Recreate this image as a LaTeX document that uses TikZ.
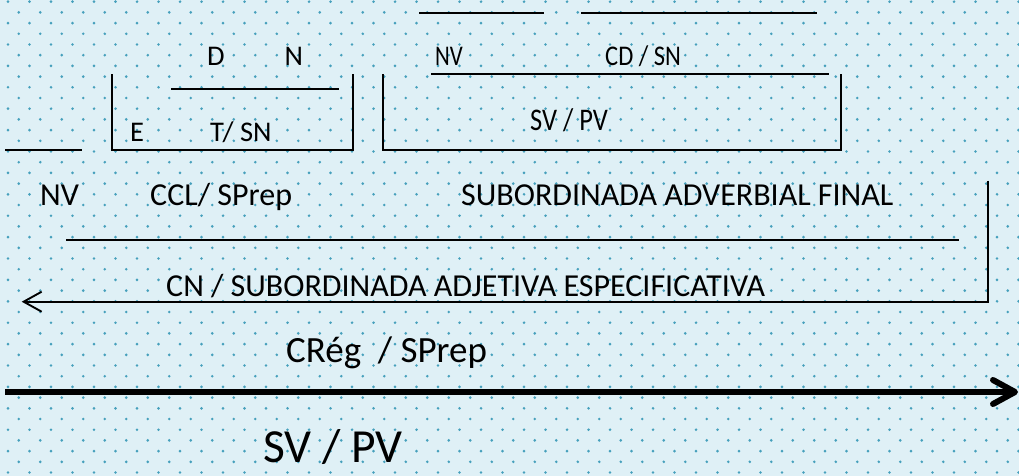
\documentclass[tikz,border=0pt]{standalone}
\usepackage{fontspec}
\setmainfont{Carlito}
\usepackage{xcolor}
\usetikzlibrary{arrows.meta}
\definecolor{bgblue}{RGB}{223,240,246}
\definecolor{dotblue}{RGB}{70,160,188}

\begin{document}
\begin{tikzpicture}[
    x=1pt, y=-1pt,
    lbl/.style={inner sep=0pt, anchor=base west, font=\fontsize{#1}{#1}\selectfont},
    lbl/.default=28.5,
    bar/.style={line width=1.9pt, line cap=rect},
    arr/.style={line width=1.9pt, -{Straight Barb[length=18pt,width=20pt]}},
    bigarr/.style={line width=6pt, -{Straight Barb[length=22pt,width=24pt,round]}}
]
\useasboundingbox (0,0) rectangle (1019,476);
\fill[bgblue] (0,0) rectangle (1019,476);
\begin{scope}
\clip (0,0) rectangle (1019,476);
\foreach \i in {0,...,44}{
  \pgfmathsetmacro{\xoff}{mod(\i,2)==0 ? 8 : 18.75}
  \foreach \j in {0,...,47}
    \fill[dotblue] (\xoff+21.5*\j, 1.7+10.7*\i) circle[radius=1.45];
}
\end{scope}

% top row: D N / NV CD
\node[lbl] (det) at (207,66) {D};
\node[lbl] (nuc) at (284.5,66) {N};
\node[lbl] (nvtop) at (435,66) {\scalebox{0.8}[1]{NV}};
\node[lbl] (cdsn) at (605,66) {\scalebox{0.86}[1]{CD / SN}};

% second row: E T/SN / SV PV
\node[lbl] (enl) at (130,142) {E};
\node[lbl] (tsn) at (210,142) {T/ SN};
\node[lbl=31.5] (svpv) at (530,130) {\scalebox{0.84}[1]{SV / PV}};

% third row
\node[lbl=32] (nv) at (40,205) {NV};
\node[lbl=32] (ccl) at (150,205) {CCL/ SPrep};
\node[lbl=32] (sub) at (461,205) {SUBORDINADA ADVERBIAL FINAL};
\node[lbl=32] (cn) at (166,296) {CN / SUBORDINADA ADJETIVA ESPECIFICATIVA};

% bottom
\node[lbl=37] (creg) at (286,362) {CRég~~/ SPrep};
\node[lbl=47.5] (svbig) at (263,462) {SV / PV};

% lines
\draw[bar] (420,13.3) -- (543,13.3);
\draw[bar] (581.7,13.3) -- (815.7,13.3);
\draw[bar] (432,74) -- (828,74);
\draw[bar] (172,89.3) -- (338,89.3);
\draw[bar] (382.7,75) -- (382.7,150) -- (840.7,150) -- (840.7,75);
\draw[bar] (111.7,75) -- (111.7,150) -- (353.3,150) -- (353.3,75);
\draw[bar] (6,150) -- (81,150);
\draw[bar] (66.7,240) -- (958,240);

\coordinate (frametop) at (988.3,180.7);
\coordinate (framebot) at (988.3,301.7);
\coordinate (arrend) at (21.7,301.7);
\draw[arr] (frametop) -- (framebot) -- (arrend);

\coordinate (bigstart) at (5,392);
\coordinate (bigend) at (1018,392);
\draw[bigarr] (bigstart) -- (bigend);
\end{tikzpicture}
\end{document}
